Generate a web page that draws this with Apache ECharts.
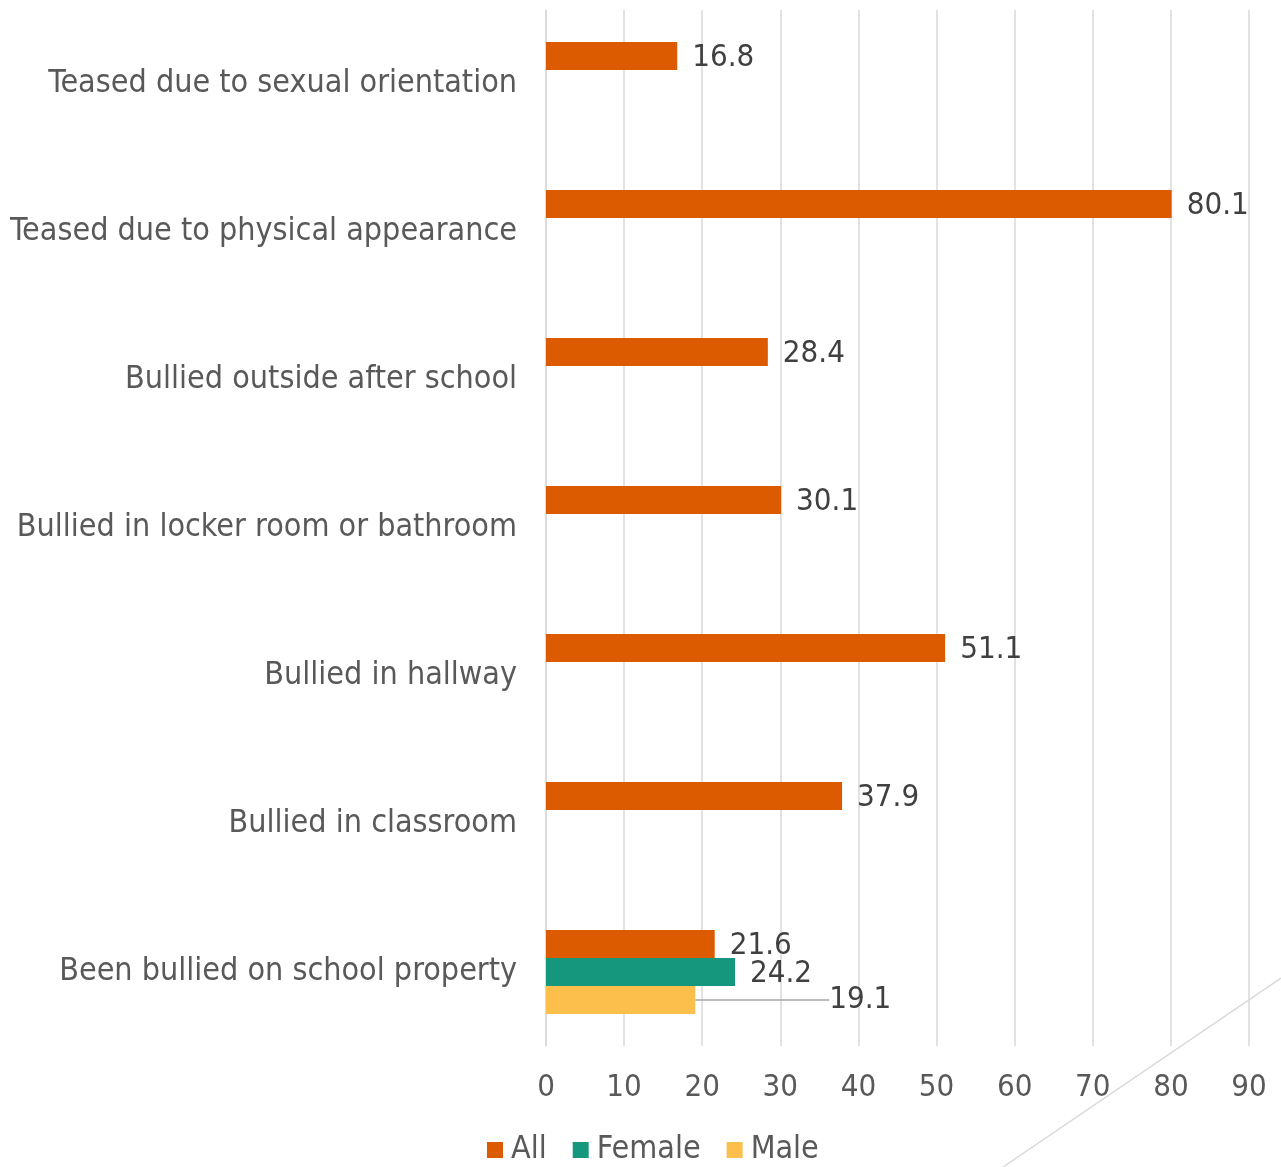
<!DOCTYPE html>
<html>
<head>
<meta charset="utf-8">
<script src="https://cdn.jsdelivr.net/npm/echarts@6/dist/echarts.min.js"></script>
<style>
  html, body { margin: 0; padding: 0; background: #fff; }
  #chart { width: 1281px; height: 1167px; }
</style>
</head>
<body>
<div id="chart"></div>
<script>
// Categories listed top to bottom
const categories = [
  'Teased due to sexual orientation',
  'Teased due to physical appearance',
  'Bullied outside after school',
  'Bullied in locker room or bathroom',
  'Bullied in hallway',
  'Bullied in classroom',
  'Been bullied on school property'
];
const allValues    = [16.8, 80.1, 28.4, 30.1, 51.1, 37.9, 21.6];
const femaleValues = [null, null, null, null, null, null, 24.2];
const maleValues   = [null, null, null, null, null, null, 19.1];
const xTicks = { min: 0, max: 90, interval: 10 };

const textColor = '#595959';
const font = 'DejaVu Sans Condensed';

const valueLabel = {
  show: true,
  position: 'right',
  distance: 15,
  offset: [0, 2],
  color: '#404040',
  fontFamily: font,
  fontSize: 31
};

const chart = echarts.init(document.getElementById('chart'));
chart.setOption({
  animation: false,
  grid: { left: 546, right: 32, top: 10, bottom: 121, containLabel: false },
  legend: {
    top: 1129,
    left: 482,
    itemWidth: 16,
    itemHeight: 16,
    itemGap: 26,
    icon: 'rect',
    textStyle: { color: textColor, fontFamily: font, fontSize: 32, padding: [0, 0, 0, 3] },
    data: ['All', 'Female', 'Male']
  },
  xAxis: {
    type: 'value',
    min: xTicks.min,
    max: xTicks.max,
    interval: xTicks.interval,
    axisLine: { show: false },
    axisTick: { show: false },
    splitLine: { lineStyle: { color: '#d9d9d9', width: 1.5 } },
    axisLabel: { color: textColor, fontFamily: font, fontSize: 31, margin: 26 }
  },
  yAxis: {
    type: 'category',
    inverse: true,
    data: categories,
    axisLine: { lineStyle: { color: '#d9d9d9', width: 1.5 } },
    axisTick: { show: false },
    axisLabel: { color: textColor, fontFamily: font, fontSize: 32, margin: 29, padding: [8, 0, 0, 0] }
  },
  series: [
    {
      name: 'All', type: 'bar', data: allValues, barWidth: 28, barGap: '0%',
      itemStyle: { color: '#DC5A00' },
      label: valueLabel
    },
    {
      name: 'Female', type: 'bar', data: femaleValues, barWidth: 28, barGap: '0%',
      itemStyle: { color: '#14977D' },
      label: valueLabel
    },
    {
      name: 'Male', type: 'bar', data: maleValues, barWidth: 28, barGap: '0%',
      itemStyle: { color: '#FDBF4B' },
      label: valueLabel,
      labelLayout: { dx: 119 },
      labelLine: { show: true, lineStyle: { color: '#a6a6a6', width: 1.5 } }
    }
  ],
  graphic: [
    {
      type: 'line',
      silent: true,
      shape: { x1: 1003, y1: 1167, x2: 1281, y2: 978 },
      style: { stroke: '#d9d9d9', lineWidth: 1.5 }
    }
  ]
});
</script>
</body>
</html>
